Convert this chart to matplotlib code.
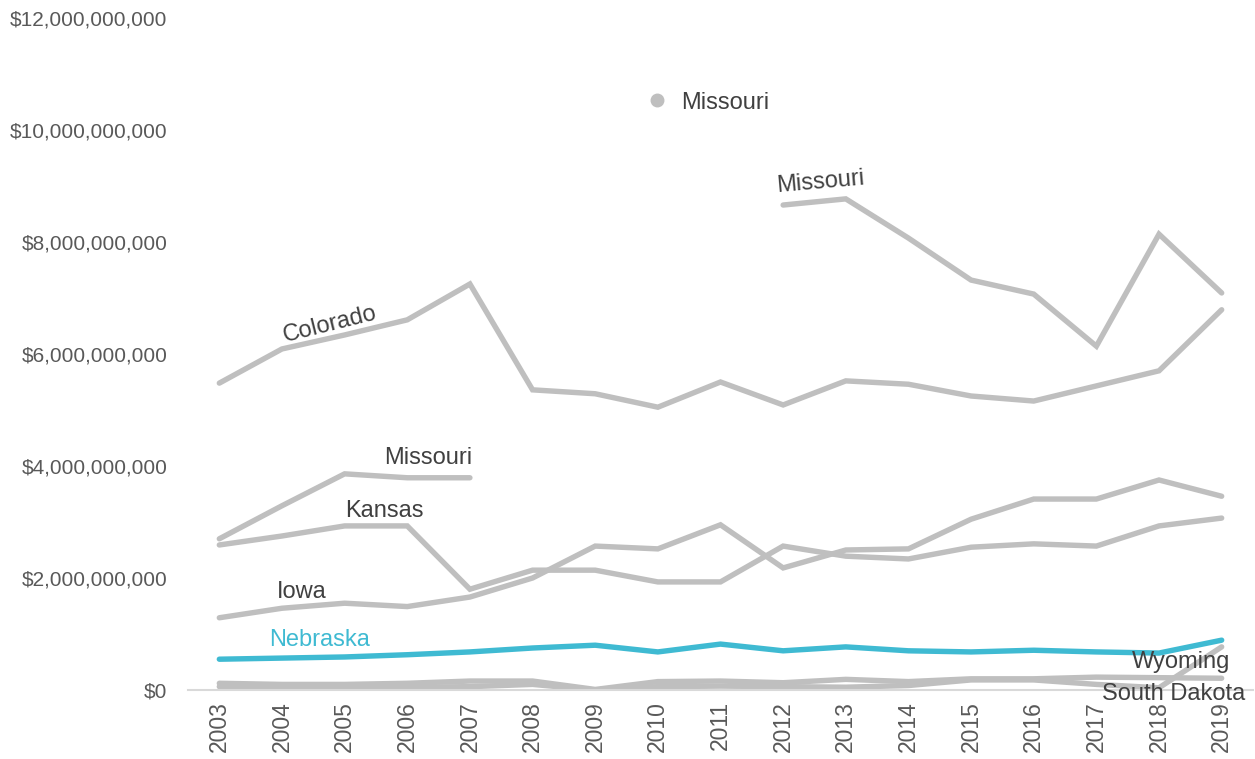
import matplotlib.pyplot as plt
import numpy as np
from matplotlib.lines import Line2D
from matplotlib.ticker import FuncFormatter

plt.rcParams['font.family'] = ['Liberation Sans', 'DejaVu Sans']

years = list(range(2003, 2020))

# values in billions of dollars
colorado = [5.48, 6.09, 6.34, 6.61, 7.25, 5.36, 5.29, 5.05, 5.50, 5.09, 5.52, 5.46, 5.25, 5.16, 5.43, 5.70, 6.79]
missouri_early = [2.70, 3.29, 3.86, 3.79, 3.79]
missouri_late = [8.66, 8.77, 8.07, 7.32, 7.07, 6.14, 8.14, 7.09]
kansas = [2.59, 2.75, 2.93, 2.93, 1.80, 2.14, 2.14, 1.93, 1.93, 2.57, 2.39, 2.34, 2.55, 2.61, 2.57, 2.93, 3.07]
iowa = [1.29, 1.46, 1.55, 1.49, 1.66, 2.00, 2.57, 2.52, 2.95, 2.18, 2.50, 2.52, 3.05, 3.41, 3.41, 3.75, 3.46]
nebraska = [0.55, 0.57, 0.59, 0.63, 0.68, 0.75, 0.80, 0.68, 0.82, 0.70, 0.77, 0.70, 0.68, 0.71, 0.68, 0.66, 0.89]
south_dakota = [0.12, 0.10, 0.10, 0.12, 0.16, 0.16, 0.01, 0.15, 0.16, 0.13, 0.19, 0.15, 0.20, 0.20, 0.23, 0.22, 0.21]
wyoming = [0.06, 0.03, 0.04, 0.05, 0.06, 0.10, 0.00, 0.06, 0.07, 0.06, 0.05, 0.08, 0.18, 0.18, 0.10, 0.04, 0.77]

gray = '#bfbfbf'
teal = '#3fbad2'
txt = '#404040'

fig = plt.figure(figsize=(12.55, 7.59), dpi=100)
ax = fig.add_axes([0.1498, 0.0909, 0.8486, 0.8854])

B = 1e9
lw = 3.9
def line(yrs, vals, c=gray):
    ax.plot(yrs, np.array(vals) * B, color=c, lw=lw, solid_capstyle='round', solid_joinstyle='miter')

line(years, colorado)
line(years[:5], missouri_early)
line(years[9:], missouri_late)
line(years, kansas)
line(years, iowa)
line(years, south_dakota)
line(years, wyoming)
line(years, nebraska, teal)

ax.text(2004.77, 6.52 * B, 'Colorado', rotation=14, fontsize=17, color=txt, ha='center', va='center')
ax.text(2012.59, 9.07 * B, 'Missouri', rotation=5, fontsize=17, color=txt, ha='center', va='center')
ax.text(2006.33, 4.14 * B, 'Missouri', fontsize=17, color=txt, ha='center', va='center')
ax.text(2005.63, 3.20 * B, 'Kansas', fontsize=17, color=txt, ha='center', va='center')
ax.text(2004.32, 1.75 * B, 'Iowa', fontsize=17, color=txt, ha='center', va='center')
ax.text(2004.60, 0.89 * B, 'Nebraska', fontsize=17, color=teal, ha='center', va='center')
ax.text(2018.36, 0.50 * B, 'Wyoming', fontsize=17, color=txt, ha='center', va='center')
ax.text(2018.23, -0.08 * B, 'South Dakota', fontsize=17, color=txt, ha='center', va='center')

handle = Line2D([], [], marker='o', color=gray, ls='none', markersize=9)
leg = ax.legend([handle], ['Missouri'], loc='center', bbox_to_anchor=(0.482, 0.874),
                frameon=False, fontsize=17, handletextpad=0.0)
for t in leg.get_texts():
    t.set_color(txt)

ax.set_xlim(2002.5, 2019.5)
ax.set_ylim(0, 12 * B)
ax.set_xticks(years)
ax.set_xticklabels([str(y) for y in years], rotation=90)
ax.set_yticks(np.arange(0, 13, 2) * B)
ax.yaxis.set_major_formatter(FuncFormatter(lambda v, p: '${:,.0f}'.format(v)))
ax.tick_params(axis='both', length=0, labelcolor='#595959')
ax.tick_params(axis='y', pad=15, labelsize=15)
ax.tick_params(axis='x', pad=8, labelsize=16.5)
for s in ['top', 'right', 'left']:
    ax.spines[s].set_visible(False)
ax.spines['bottom'].set_color('#d9d9d9')
ax.spines['bottom'].set_linewidth(1.5)

fig.savefig('out.png', dpi=100)
